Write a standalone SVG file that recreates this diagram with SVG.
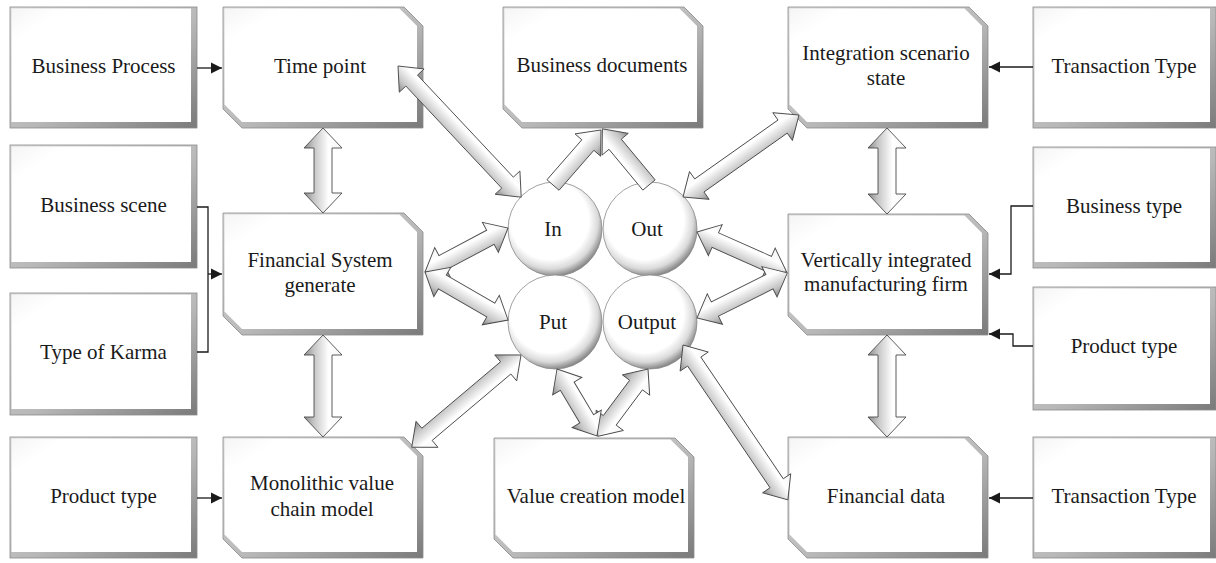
<svg xmlns="http://www.w3.org/2000/svg" width="1216" height="563" viewBox="0 0 1216 563">
<style>
.edge{fill:url(#edgeGrad);stroke:#8a8a8a;stroke-width:0.8}
.face{fill:url(#faceGrad)}
.lbl{font-family:"Liberation Serif","Times New Roman",serif;font-size:21px;fill:#1a1a1a;text-anchor:middle}
.circ{fill:url(#circGrad);stroke:#8a8a8a;stroke-width:0.8}
.blk{fill:url(#arrGrad);stroke:#4a4a4a;stroke-width:0.9;stroke-linejoin:miter}
.ln{fill:none;stroke:#1a1a1a;stroke-width:1.3;marker-end:url(#tri)}
</style>
<defs>
<linearGradient id="edgeGrad" x1="0" y1="0" x2="1" y2="1">
<stop offset="0" stop-color="#dcdcdc"/>
<stop offset="0.55" stop-color="#b8b8b8"/>
<stop offset="1" stop-color="#7a7a7a"/>
</linearGradient>
<linearGradient id="faceGrad" x1="0" y1="0" x2="1" y2="1">
<stop offset="0" stop-color="#f5f5f5"/>
<stop offset="0.15" stop-color="#ffffff"/>
<stop offset="1" stop-color="#ffffff"/>
</linearGradient>
<radialGradient id="circGrad" cx="0.45" cy="0.42" r="0.58" fx="0.42" fy="0.38">
<stop offset="0" stop-color="#ffffff"/>
<stop offset="0.72" stop-color="#ffffff"/>
<stop offset="0.88" stop-color="#dadada"/>
<stop offset="1" stop-color="#8c8c8c"/>
</radialGradient>
<linearGradient id="arrGrad" x1="0" y1="0" x2="0" y2="1">
<stop offset="0" stop-color="#f4f4f4"/>
<stop offset="0.35" stop-color="#ffffff"/>
<stop offset="0.75" stop-color="#c4c4c4"/>
<stop offset="1" stop-color="#888888"/>
</linearGradient>
<marker id="tri" viewBox="0 0 10 10" refX="10" refY="5" markerWidth="11" markerHeight="12" markerUnits="userSpaceOnUse" orient="auto">
<path d="M0,0 L10,5 L0,10 Z" fill="#1a1a1a"/>
</marker>
</defs>
<rect width="1216" height="563" fill="#ffffff"/>

<g id="nodes">
<g id="business-process"><rect class="edge" x="10" y="7" width="187" height="121"/><rect class="face" x="11.5" y="8.5" width="179.5" height="113.5"/><text class="lbl" x="103.5" y="73">Business Process</text></g>
<g id="business-scene"><rect class="edge" x="10" y="145" width="187" height="123"/><rect class="face" x="11.5" y="146.5" width="179.5" height="115.5"/><text class="lbl" x="103.5" y="212">Business scene</text></g>
<g id="type-of-karma"><rect class="edge" x="10" y="293" width="187" height="122"/><rect class="face" x="11.5" y="294.5" width="179.5" height="114.5"/><text class="lbl" x="103.5" y="359">Type of Karma</text></g>
<g id="product-type-left"><rect class="edge" x="10" y="437" width="187" height="121"/><rect class="face" x="11.5" y="438.5" width="179.5" height="113.5"/><text class="lbl" x="103.5" y="503">Product type</text></g>

<g id="time-point"><path class="edge" d="M223,7 H404 L423,26 V128 H242 L223,109 Z"/><path class="face" d="M224.5,8.5 H399.5 L417,26 V122 H242 L224.5,104.5 Z"/><text class="lbl" x="320" y="73">Time point</text></g>
<g id="financial-system"><path class="edge" d="M223,213 H404 L423,232 V335 H242 L223,316 Z"/><path class="face" d="M224.5,214.5 H399.5 L417,232 V329 H242 L224.5,311.5 Z"/><text class="lbl" x="320" y="267">Financial System</text><text class="lbl" x="320" y="292">generate</text></g>
<g id="monolithic"><path class="edge" d="M223,437 H404 L423,456 V558 H242 L223,539 Z"/><path class="face" d="M224.5,438.5 H399.5 L417,456 V552 H242 L224.5,534.5 Z"/><text class="lbl" x="322" y="490">Monolithic value</text><text class="lbl" x="322" y="516">chain model</text></g>

<g id="business-documents"><path class="edge" d="M503,7 H684 L703,26 V128 H522 L503,109 Z"/><path class="face" d="M504.5,8.5 H679.5 L697,26 V122 H522 L504.5,104.5 Z"/><text class="lbl" x="602" y="72">Business documents</text></g>
<g id="value-creation"><path class="edge" d="M494,438 H675 L694,457 V558 H513 L494,539 Z"/><path class="face" d="M495.5,439.5 H670.5 L688,457 V552 H513 L495.5,534.5 Z"/><text class="lbl" x="596" y="503">Value creation model</text></g>

<g id="integration-state"><path class="edge" d="M788,7 H969 L988,26 V128 H807 L788,109 Z"/><path class="face" d="M789.5,8.5 H964.5 L982,26 V122 H807 L789.5,104.5 Z"/><text class="lbl" x="886" y="60">Integration scenario</text><text class="lbl" x="886" y="85">state</text></g>
<g id="vertically-integrated"><path class="edge" d="M788,214 H969 L988,233 V335 H807 L788,316 Z"/><path class="face" d="M789.5,215.5 H964.5 L982,233 V329 H807 L789.5,311.5 Z"/><text class="lbl" x="886" y="267">Vertically integrated</text><text class="lbl" x="886" y="291">manufacturing firm</text></g>
<g id="financial-data"><path class="edge" d="M788,437 H969 L988,456 V558 H807 L788,539 Z"/><path class="face" d="M789.5,438.5 H964.5 L982,456 V552 H807 L789.5,534.5 Z"/><text class="lbl" x="886" y="503">Financial data</text></g>

<g id="transaction-type-top"><rect class="edge" x="1033" y="7" width="183" height="121"/><rect class="face" x="1034.5" y="8.5" width="175.5" height="113.5"/><text class="lbl" x="1124" y="73">Transaction Type</text></g>
<g id="business-type"><rect class="edge" x="1033" y="147" width="183" height="121"/><rect class="face" x="1034.5" y="148.5" width="175.5" height="113.5"/><text class="lbl" x="1124" y="213">Business type</text></g>
<g id="product-type-right"><rect class="edge" x="1033" y="287" width="183" height="123"/><rect class="face" x="1034.5" y="288.5" width="175.5" height="115.5"/><text class="lbl" x="1124" y="353">Product type</text></g>
<g id="transaction-type-bottom"><rect class="edge" x="1033" y="437" width="183" height="121"/><rect class="face" x="1034.5" y="438.5" width="175.5" height="113.5"/><text class="lbl" x="1124" y="503">Transaction Type</text></g>

<g id="circle-in"><circle class="circ" cx="555" cy="229" r="47"/><text class="lbl" x="553" y="236">In</text></g>
<g id="circle-out"><circle class="circ" cx="650" cy="229" r="47"/><text class="lbl" x="647" y="236">Out</text></g>
<g id="circle-put"><circle class="circ" cx="555" cy="322" r="47"/><text class="lbl" x="553" y="329">Put</text></g>
<g id="circle-output"><circle class="circ" cx="650" cy="322" r="47"/><text class="lbl" x="647" y="329">Output</text></g>
</g>

<g id="connectors">
<path class="ln" d="M197,68 H222"/>
<path d="M197,207 H208 V352 H197" fill="none" stroke="#1a1a1a" stroke-width="1.3"/>
<path class="ln" d="M208,274 H222"/>
<path class="ln" d="M197,498 H222"/>
<path class="ln" d="M1033,67 H989"/>
<path class="ln" d="M1033,206 H1011 V274 H989"/>
<path class="ln" d="M1033,346 H1013 V334 H989"/>
<path class="ln" d="M1033,498 H989"/>

<polygon class="blk" transform="translate(398,66) rotate(46.8)" points="0,0 20,-17 20,-8 160,-8 160,-17 180,0 160,17 160,8 20,8 20,17"/>
<polygon class="blk" transform="translate(553,185) rotate(-48.9)" points="0,-8 53,-8 53,-17 73,0 53,17 53,8 0,8"/>
<polygon class="blk" transform="translate(649,185) rotate(-129.7)" points="0,-8 53,-8 53,-17 73,0 53,17 53,8 0,8"/>
<polygon class="blk" transform="translate(683,197) rotate(-35.26)" points="0,0 20,-17 20,-8 122,-8 122,-17 142,0 122,17 122,8 20,8 20,17"/>
<polygon class="blk" transform="translate(697,232) rotate(23.96)" points="0,0 20,-17 20,-8 78,-8 78,-17 98,0 78,17 78,8 20,8 20,17"/>
<polygon class="blk" transform="translate(697,318) rotate(-26.57)" points="0,0 20,-17 20,-8 81,-8 81,-17 101,0 81,17 81,8 20,8 20,17"/>
<polygon class="blk" transform="translate(683,345) rotate(55.89)" points="0,0 20,-17 20,-8 167,-8 167,-17 187,0 167,17 167,8 20,8 20,17"/>
<polygon class="blk" transform="translate(648,369) rotate(126.7)" points="0,0 20,-17 20,-8 64,-8 64,-17 84,0 64,17 64,8 20,8 20,17"/>
<polygon class="blk" transform="translate(557,369) rotate(59.2)" points="0,0 20,-17 20,-8 58,-8 58,-17 78,0 58,17 58,8 20,8 20,17"/>
<polygon class="blk" transform="translate(521,355) rotate(139.84)" points="0,0 20,-17 20,-8 123,-8 123,-17 143,0 123,17 123,8 20,8 20,17"/>
<polygon class="blk" transform="translate(425,272) rotate(-27.93)" points="0,0 20,-17 20,-8 74,-8 74,-17 94,0 74,17 74,8 20,8 20,17"/>
<polygon class="blk" transform="translate(425,272) rotate(30.04)" points="0,0 20,-17 20,-8 76,-8 76,-17 96,0 76,17 76,8 20,8 20,17"/>
<polygon class="blk" transform="translate(323,128) rotate(90)" points="0,0 20,-19 20,-9 65,-9 65,-19 85,0 65,19 65,9 20,9 20,19"/>
<polygon class="blk" transform="translate(323,335) rotate(90)" points="0,0 20,-19 20,-9 82,-9 82,-19 102,0 82,19 82,9 20,9 20,19"/>
<polygon class="blk" transform="translate(887,128) rotate(90)" points="0,0 20,-19 20,-9 66,-9 66,-19 86,0 66,19 66,9 20,9 20,19"/>
<polygon class="blk" transform="translate(887,335) rotate(90)" points="0,0 20,-19 20,-9 82,-9 82,-19 102,0 82,19 82,9 20,9 20,19"/>
</g>
</svg>
